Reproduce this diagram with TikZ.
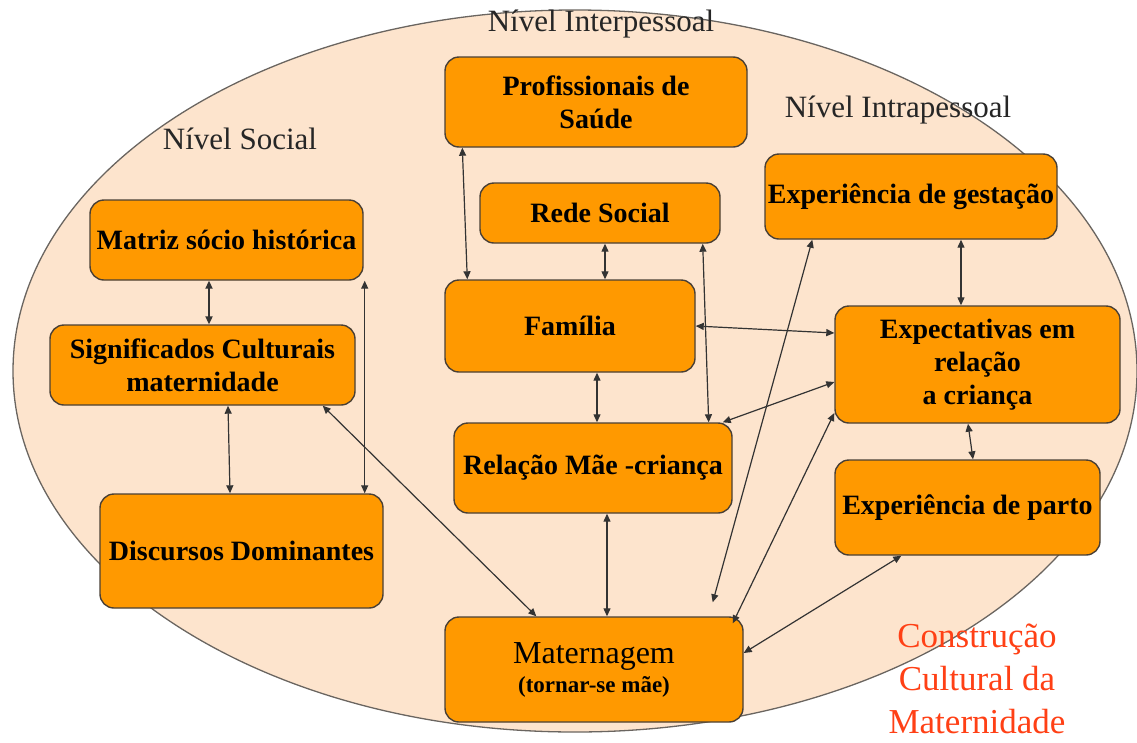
\documentclass[tikz,border=0pt]{standalone}
\usepackage{fontspec}
\setmainfont{Liberation Serif}
\usetikzlibrary{arrows.meta}
\definecolor{peach}{HTML}{FDE4CD}
\definecolor{boxorange}{HTML}{FF9900}
\definecolor{boxline}{HTML}{4A4035}
\definecolor{linkgray}{HTML}{333333}
\definecolor{rimgray}{HTML}{6A6560}
\definecolor{titlered}{HTML}{FF4015}
\begin{document}
\begin{tikzpicture}[x=1pt,y=-1pt,
  box/.style={draw=boxline, line width=1.4pt, fill=boxorange, rounded corners=14pt,
    inner sep=0pt, align=center, font=\fontsize{28}{33}\selectfont\bfseries},
  level/.style={font=\fontsize{31}{33}\selectfont, text=black!85},
  link/.style={draw=linkgray, line width=1.2pt,
    {Triangle[length=8pt,width=7pt]}-{Triangle[length=8pt,width=7pt]}},
  thicklink/.style={link, line width=2.4pt},
]
\useasboundingbox (0,0) rectangle (1137,742);

% outer ellipse
\draw[fill=peach, draw=rimgray, line width=1.3pt] (575,371) ellipse [x radius=562, y radius=361];

% level labels
\node[level] (lvinter) at (601,24) {Nível Interpessoal};
\node[level] (lvsocial) at (240,139) {Nível Social};
\node[level] (lvintra) at (898,110) {Nível Intrapessoal};

% boxes
\node[box, minimum width=302pt, minimum height=90pt] (prof) at (596,102) {Profissionais de\\Saúde};
\node[box, minimum width=240pt, minimum height=60pt] (rede) at (600,213) {Rede Social};
\node[box, minimum width=292pt, minimum height=85pt] (gest) at (911,196.5) {Experiência de gestação};
\node[box, minimum width=273pt, minimum height=80pt] (matriz) at (226.5,240) {Matriz sócio histórica};
\node[box, minimum width=305pt, minimum height=80pt] (sig) at (202.5,365) {Significados Culturais\\maternidade};
\node[box, minimum width=250pt, minimum height=92pt] (fam) at (570,326) {Família};
\node[box, minimum width=285pt, minimum height=117pt] (expc) at (977.5,364.5) {Expectativas em\\relação\\a criança};
\node[box, minimum width=278pt, minimum height=90pt] (rel) at (593,468) {Relação Mãe -criança};
\node[box, minimum width=265pt, minimum height=95pt] (parto) at (967.5,507.5) {Experiência de parto};
\node[box, minimum width=283pt, minimum height=114pt] (disc) at (241.5,551) {Discursos Dominantes};
\node[box, minimum width=298pt, minimum height=105pt] (mat) at (594,669.5)
  {{\fontsize{32}{34}\selectfont\mdseries Maternagem}\\[-4pt]{\fontsize{23}{26}\selectfont (tornar-se mãe)}};

% free end of the gestation link, just above Maternagem
\coordinate (matgap) at ([xshift=-31pt,yshift=14pt]mat.north east);

% connectors
\draw[link] ([xshift=18pt]prof.south west) -- ([xshift=23pt]fam.north west);
\draw[link] ([xshift=5pt]rede.south) -- ([xshift=35pt]fam.north);
\draw[link] ([xshift=-18pt]rede.south east) -- ([xshift=-24pt]rel.north east);
\draw[link] (fam.east) -- ([yshift=31.5pt]expc.west);
\draw[link] ([xshift=27pt]fam.south) -- ([xshift=4pt]rel.north);
\draw[link] ([xshift=-10pt]rel.north east) -- ([yshift=-17.5pt]expc.west);
\draw[link] ([xshift=50pt]gest.south) -- ([xshift=-16.5pt]expc.north);
\draw[link] ([xshift=-9.5pt]expc.south) -- ([xshift=5.5pt]parto.north);
\draw[link] ([xshift=48pt]gest.south west) -- (matgap);
\draw[link] ([yshift=-48.5pt]expc.west) -- ([xshift=-11pt,yshift=-7pt]mat.north east);
\draw[link] ([xshift=67pt]parto.south west) -- ([yshift=16.5pt]mat.east);
\draw[link] ([xshift=-33pt]sig.south east) -- ([xshift=92pt]mat.north west);
\draw[link] ([xshift=14pt]rel.south) -- ([xshift=13pt]mat.north);
\draw[thicklink] ([xshift=-17.5pt]matriz.south) -- ([xshift=6.5pt]sig.north);
\draw[link] ([xshift=1pt]matriz.south east) -- ([xshift=-19pt]disc.north east);
\draw[link] ([xshift=25.5pt]sig.south) -- ([xshift=-11.5pt]disc.north);

% title
\node[text=titlered, align=center, font=\fontsize{35}{43}\selectfont] (title) at (977,679)
  {Construção\\Cultural da\\Maternidade};
\end{tikzpicture}
\end{document}
